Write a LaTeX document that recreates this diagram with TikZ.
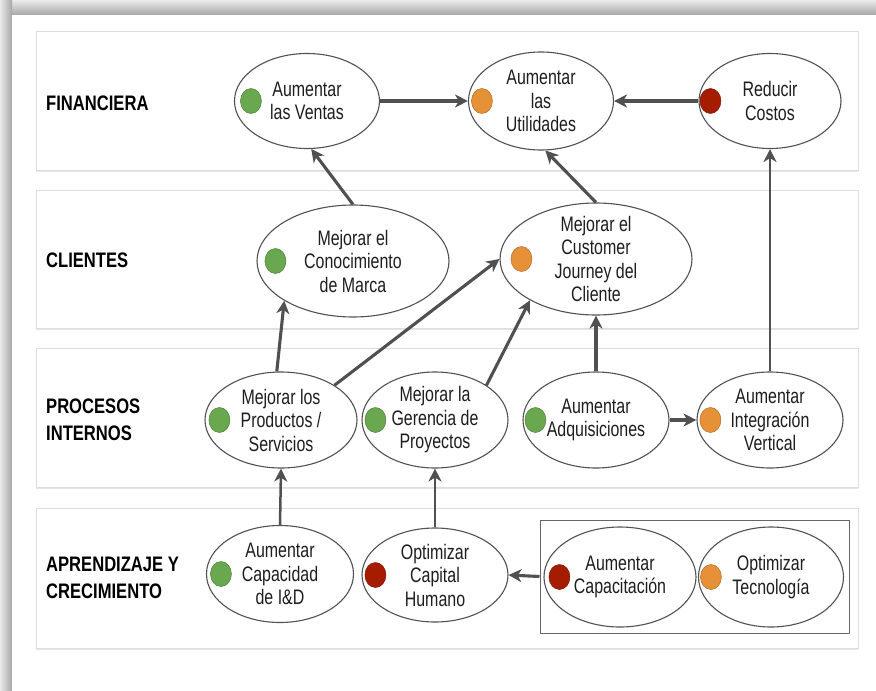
\documentclass[tikz,border=0pt]{standalone}
\usepackage{fontspec}
\setmainfont{Liberation Sans}[FakeStretch=0.76]
\newfontfamily\lblfont{Liberation Sans}[FakeStretch=0.79]
\usetikzlibrary{arrows.meta,shapes.geometric,shadows}
\definecolor{cgreen}{HTML}{6AA84F}
\definecolor{corange}{HTML}{E69138}
\definecolor{cred}{HTML}{A61C00}
\definecolor{linec}{HTML}{505050}
\definecolor{txtc}{HTML}{1E1E1E}
% name, x, y, width, height, dot colour, dot offset, text
\newcommand\goalnode[8]{%
  \node[goalshape, minimum width=#4pt, minimum height=#5pt] (#1) at (#2,#3) {};
  \node[dotshape, fill=#6, draw=#6!75!black] (#1-d) at ([xshift=#7pt]#1.west) {};
  \node[gtext] (#1-t) at (#1.center) {#8};
}
\begin{document}
\begin{tikzpicture}[x=1pt,y=-1pt,
  band/.style={draw=black!13, line width=0.8pt, fill=white,
    drop shadow={opacity=0.2, shadow xshift=0pt, shadow yshift=-2pt}},
  goalshape/.style={ellipse, draw=black!68, line width=1.1pt, fill=white, inner sep=0pt},
  dotshape/.style={ellipse, minimum width=21pt, minimum height=25pt, inner sep=0pt, line width=0.5pt},
  gtext/.style={align=center, text=txtc, font=\fontsize{21}{23.5}\selectfont, inner sep=0pt},
  lbl/.style={anchor=west, align=left, text=black, font=\lblfont\bfseries\fontsize{21}{27}\selectfont, inner sep=0pt},
  arr/.style={draw=linec, line width=3.1pt, -{Stealth[length=13pt,width=13pt,inset=4pt]}},
]
\useasboundingbox (0,0) rectangle (876,691);
% frame
\shade[top color=black!8, bottom color=black!35] (0,0) rectangle (876,15);
\shade[left color=black!8, right color=black!35] (0,0) rectangle (12,691);
\fill[white] (12,15) rectangle (876,691);

% bands
\draw[band] (36,31) rectangle (858,170);
\draw[band] (36,190) rectangle (858,328);
\draw[band] (36,348) rectangle (858,487);
\draw[band] (36,508) rectangle (858,648);

% labels
\node[lbl] (lf) at (46,103) {FINANCIERA};
\node[lbl] (lc) at (46,260) {CLIENTES};
\node[lbl] (lp) at (46,420) {PROCESOS\\INTERNOS};
\node[lbl] (la) at (46,578) {APRENDIZAJE Y\\CRECIMIENTO};

% group box
\node[draw=black!60, line width=1pt, minimum width=309pt, minimum height=113pt, inner sep=0pt] (grp) at (694.5,576.5) {};

% goals
\goalnode{ven}{307}{101}{145}{95}{cgreen}{17}{Aumentar\\las Ventas}
\goalnode{uti}{541}{101}{145}{98}{corange}{14}{Aumentar\\las\\Utilidades}
\goalnode{cos}{770}{101}{142}{95}{cred}{12}{Reducir\\Costos}
\goalnode{mar}{353}{261}{192}{112}{cgreen}{19}{Mejorar el\\Conocimiento\\de Marca}
\goalnode{cus}{596}{259}{192}{112}{corange}{22}{Mejorar el\\Customer\\Journey del\\Cliente}
\goalnode{pro}{281}{420}{152}{96}{cgreen}{15}{Mejorar los\\Productos /\\Servicios}
\goalnode{ger}{435}{420}{146}{96}{cgreen}{14}{Mejorar la\\Gerencia de\\Proyectos}
\goalnode{adq}{596}{420}{146}{96}{cgreen}{13}{Aumentar\\Adquisiciones}
\goalnode{int}{770}{420}{146}{96}{corange}{14}{Aumentar\\Integración\\Vertical}
\goalnode{idd}{280}{574}{147}{97}{cgreen}{15}{Aumentar\\Capacidad\\de I\&D}
\goalnode{cap}{435}{575}{146}{94}{cred}{14}{Optimizar\\Capital\\Humano}
\goalnode{cpc}{620}{577}{152}{100}{cred}{16}{Aumentar\\Capacitación}
\goalnode{tec}{771}{577}{145}{100}{corange}{13}{Optimizar\\Tecnología}

% connectors
\draw[arr] (ven) -- (uti);
\draw[arr] (cos) -- (uti);
\draw[arr] (mar.north) -- (ven.-85);
\draw[arr] (cus.north) -- (uti.-85);
\draw[arr, line width=2pt] (int.north) -- (cos.south);
\draw[arr] (pro.95) -- (mar.-150);
\draw[arr] (pro.33) -- (cus.west);
\draw[arr] (ger.34) -- (cus.-148);
\draw[arr] (adq.north) -- (cus.south);
\draw[arr] (adq) -- (int);
\draw[arr, line width=2.5pt] (idd.north) -- (pro.south);
\draw[arr, line width=2.5pt] (cap.north) -- (ger.south);
\draw[arr] (grp.west) -- (cap.east);
\end{tikzpicture}
\end{document}
